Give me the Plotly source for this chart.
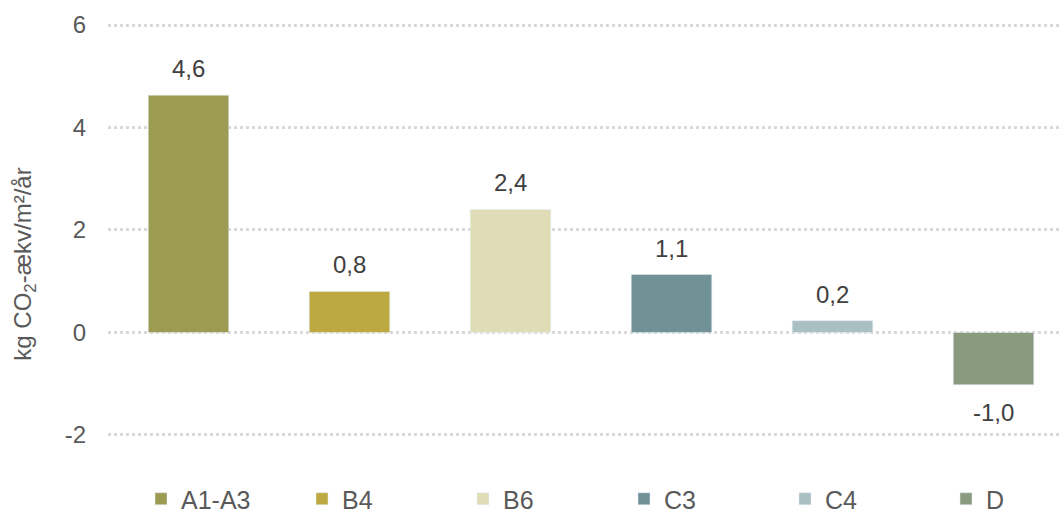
import plotly.graph_objects as go

categories = ["A1-A3", "B4", "B6", "C3", "C4", "D"]
values = [4.63, 0.80, 2.40, 1.13, 0.23, -1.02]
colors = ["#9B9B52", "#BCA93F", "#E0DDB6", "#709196", "#A9BFC2", "#899A7F"]
tick_vals = [-2, 0, 2, 4, 6]
tick_text = ["-2", "0", "2", "4", "6"]

FONT = "Liberation Sans, Arial, sans-serif"
FS = 24

W, H = 1061, 513
left, right_px = 108, 1061
top, bottom_px = 15, 513
plot_w = right_px - left
plot_h = bottom_px - top
step = 161
px_per_unit = 51.2

fig = go.Figure()
layout_legends = {}
for i, (c, v, col) in enumerate(zip(categories, values, colors)):
    lg = "legend" if i == 0 else f"legend{i + 1}"
    fig.add_trace(go.Bar(
        x=[c], y=[v], name=c, marker_color=col, width=0.5,
        legend=lg, showlegend=True,
    ))
    fig.add_annotation(
        x=c, y=v, text=f"{v:.1f}".replace(".", ","), showarrow=False,
        yanchor="bottom" if v >= 0 else "top", yshift=11 if v >= 0 else -12,
        font=dict(size=FS, color="#404040", family=FONT),
    )
    layout_legends[lg] = dict(
        orientation="h", x=(i * step + 33) / plot_w, xanchor="left",
        y=(H - 499) / plot_h, yanchor="middle",
        font=dict(size=25, color="#595959", family=FONT),
        bgcolor="rgba(0,0,0,0)", itemwidth=30,
    )

fig.update_layout(
    width=W, height=H,
    margin=dict(l=left, r=W - right_px, t=top, b=H - bottom_px, autoexpand=False),
    plot_bgcolor="white", paper_bgcolor="white",
    font=dict(family=FONT, color="#595959", size=FS),
    barmode="overlay",
    xaxis=dict(range=[-0.5, -0.5 + plot_w / step], showticklabels=False,
               showgrid=False, zeroline=False, showline=False, ticks=""),
    yaxis=dict(range=[-2 - (bottom_px - 435) / px_per_unit, 6 + (25 - top) / px_per_unit],
               tickvals=tick_vals, ticktext=tick_text, showgrid=True,
               gridcolor="#D9D9D9", gridwidth=3, griddash="dot",
               zeroline=False, showline=False, ticks="",
               ticklabelstandoff=21, automargin=False,
               tickfont=dict(size=FS, color="#595959", family=FONT),
               title=dict(text="kg CO<sub>2</sub>-ækv/m²/år", standoff=26,
                          font=dict(size=FS, color="#595959", family=FONT))),
    **layout_legends,
)

fig.write_html("out.html", config={"displayModeBar": False},
               post_script="document.body.style.margin='0';document.body.style.overflow='hidden';")
